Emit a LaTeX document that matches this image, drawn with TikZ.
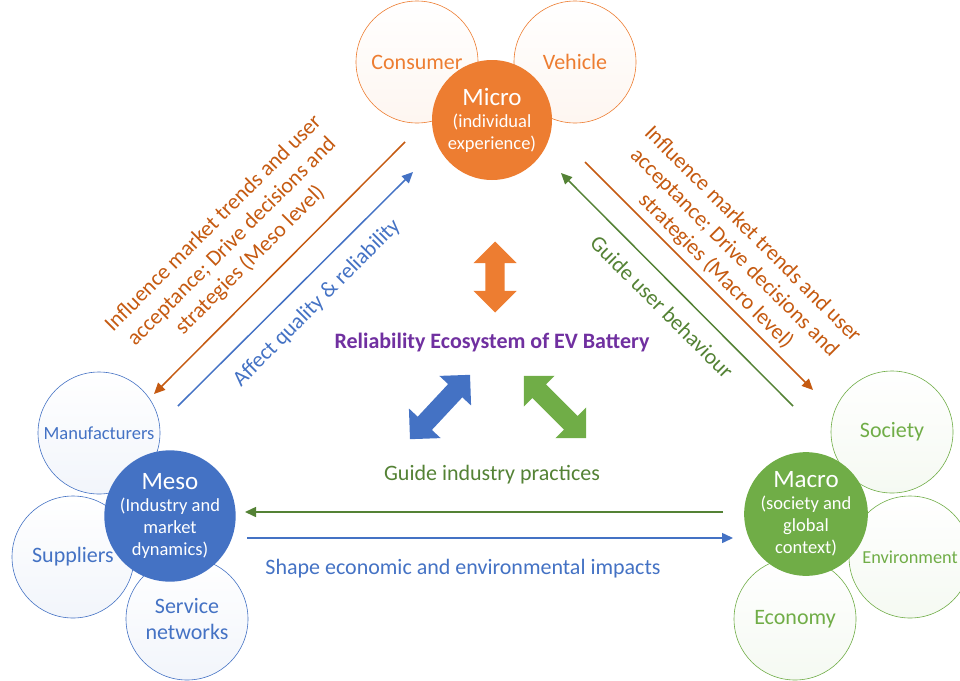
\documentclass[tikz,border=0pt]{standalone}
\usepackage{fontspec}
\setmainfont{Carlito}
\usetikzlibrary{arrows.meta,shapes.arrows}
\definecolor{orangem}{HTML}{ED7D31}
\definecolor{oranged}{HTML}{C55A11}
\definecolor{bluem}{HTML}{4472C4}
\definecolor{greenm}{HTML}{70AD47}
\definecolor{greend}{HTML}{548235}
\definecolor{purplem}{HTML}{7030A0}

\begin{document}
\begin{tikzpicture}[x=1pt, y=-1pt,
    main/.style = {circle, text=white, align=center, minimum size=120pt, inner sep=0pt, font=\fontsize{18.5}{22}\selectfont},
    sub/.style = {draw=#1, circle, text=#1, top color=white, bottom color=#1!7, minimum size=122pt, inner sep=0pt, align=center, line width=0.6pt, font=\fontsize{22}{26}\selectfont},
    lbl/.style = {align=center, font=\fontsize{22}{26}\selectfont},
    fat/.style = {double arrow, double arrow head extend=12pt, inner xsep=0pt, inner ysep=9.5pt, fill=#1},
    link/.style = {line width=1.5pt, draw=#1, -{Triangle[length=11pt,width=10pt]}}]
    \useasboundingbox (0,0) rectangle (960,680);

    \node[sub=orangem](consumer) at (417,62){Consumer};
    \node[sub=orangem](vehicle) at (575,62){Vehicle};
    \node[sub=bluem, font=\fontsize{18.5}{22}\selectfont](manuf) at (99,433){Manufacturers};
    \node[sub=bluem](suppl) at (73,557){Suppliers};
    \node[sub=bluem](service) at (187,619){Service\\networks};
    \node[sub=greenm](society) at (892,432){Society};
    \node[sub=greenm, font=\fontsize{18.3}{22}\selectfont](envir) at (910,557){Environment};
    \node[sub=greenm](economy) at (795,619){Economy};

    \node[main, fill=orangem](micro) at (492,120){{\fontsize{25}{28}\selectfont Micro}\\(individual\\experience)};
    \node[main, fill=bluem](meso) at (170,516){{\fontsize{25}{28}\selectfont Meso}\\(Industry and\\market\\dynamics)};
    \node[main, fill=greenm](macro) at (806,514){{\fontsize{25}{28}\selectfont Macro}\\(society and\\global\\context)};

    \coordinate (ol1) at (405,142);
    \coordinate (ol2) at (154,394);
    \coordinate (bl1) at (178,406);
    \coordinate (bl2) at (413,172);
    \coordinate (gr1) at (793,406);
    \coordinate (gr2) at (561,173);
    \coordinate (or1) at (585,162);
    \coordinate (or2) at (813,390);
    \coordinate (gh1) at (723,512);
    \coordinate (gh2) at (245,512);
    \coordinate (bh1) at (247,538);
    \coordinate (bh2) at (733,538);

    \draw[link=oranged] (ol1) -- (ol2);
    \draw[link=bluem] (bl1) -- (bl2);
    \draw[link=greend] (gr1) -- (gr2);
    \draw[link=oranged] (or1) -- (or2);
    \draw[link=greend] (gh1) -- (gh2);
    \draw[link=bluem] (bh1) -- (bh2);

    \node[lbl, text=oranged, rotate=45](lmeso) at (232,242){Influence market trends and user\\acceptance; Drive decisions and\\strategies (Meso level)};
    \node[lbl, text=bluem, rotate=45](laffect) at (317,303){Affect quality \& reliability};
    \node[lbl, text=oranged, rotate=-45](lmacro) at (734,253){Influence market trends and user\\acceptance; Drive decisions and\\strategies (Macro level)};
    \node[lbl, text=greend, rotate=-45](luser) at (662,307){Guide user behaviour};
    \node[lbl, text=purplem, font=\fontsize{22}{26}\selectfont\bfseries](title) at (492,343){Reliability Ecosystem of EV Battery};
    \node[lbl, text=greend](lindustry) at (492,475){Guide industry practices};
    \node[lbl, text=bluem](lshape) at (463,569){Shape economic and environmental impacts};

    \node[fat=orangem, minimum height=71pt, rotate=90](up) at (495,277){};
    \node[fat=bluem, minimum height=88pt, rotate=47](left) at (440,407){};
    \node[fat=greenm, minimum height=88pt, rotate=-45](right) at (555,407){};
\end{tikzpicture}
\end{document}
